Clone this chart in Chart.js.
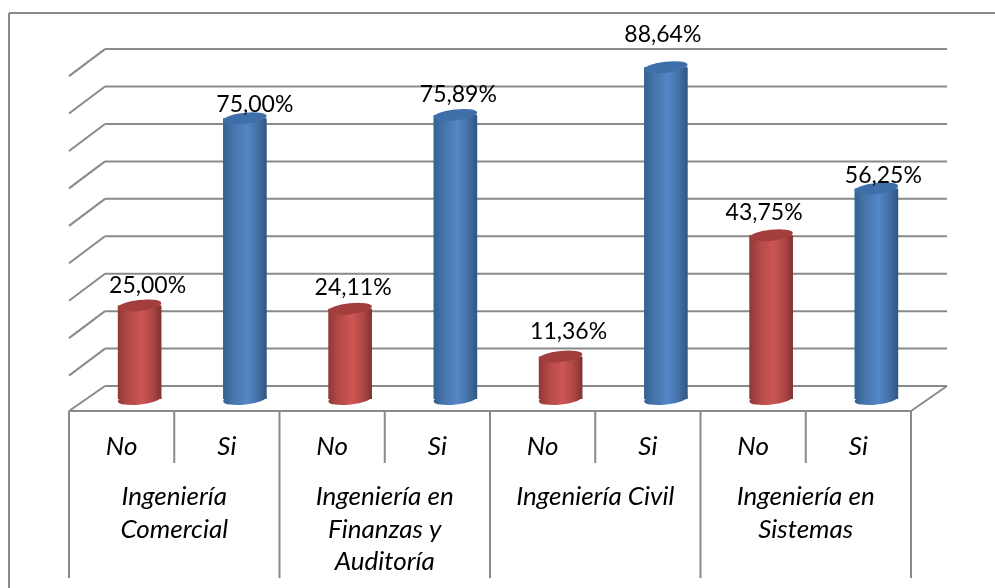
<!DOCTYPE html>
<html>
<head>
<meta charset="utf-8">
<title>Ingeniería</title>
<script src="https://cdn.jsdelivr.net/npm/chart.js@4"></script>
<style>
    html, body { margin: 0; padding: 0; background: #fff; }
    canvas { display: block; }
</style>
</head>
<body>
<canvas id="myBarChart" width="995" height="588"></canvas>
<script>
// Data
const careers = [
    ['Ingeniería', 'Comercial'],
    ['Ingeniería en', 'Finanzas y', 'Auditoría'],
    ['Ingeniería Civil'],
    ['Ingeniería en', 'Sistemas']
];
const answers = ['No', 'Si', 'No', 'Si', 'No', 'Si', 'No', 'Si'];
const noValues = [25.00, 24.11, 11.36, 43.75];
const siValues = [75.00, 75.89, 88.64, 56.25];
const wallTicks = [0, 10, 20, 30, 40, 50, 60, 70, 80, 90];

// Label nudges, the original has them hand placed
const labelShiftX = [8, 10, 3, 3, 8, -3, -7, 7];
const labelShiftY = [20, 14, 21, 20, 25, 33, 23, 13];

// 3D look
const depthX = 18;
const wallLift = 13;
const wallDepth = 36;
const lineColor = '#8a8a8a';
const textColor = '#000';

const values = [];
noValues.forEach(function(v, i) {
    values.push(v, siValues[i]);
});

function line(ctx, x1, y1, x2, y2) {
    ctx.beginPath();
    ctx.moveTo(x1, y1);
    ctx.lineTo(x2, y2);
    ctx.stroke();
}

function barGradient(context) {
    const chart = context.chart;
    const scale = chart.scales.x;
    if (!scale || context.dataIndex === undefined) {
        return '#4f81bd';
    }
    const center = scale.getPixelForTick(context.dataIndex);
    const half = 22;
    const g = chart.ctx.createLinearGradient(center - half, 0, center + half, 0);
    if (context.dataIndex % 2 === 0) {
        g.addColorStop(0, '#8e3836');
        g.addColorStop(0.25, '#b54a47');
        g.addColorStop(0.55, '#cd5654');
        g.addColorStop(0.8, '#ad4644');
        g.addColorStop(1, '#7f3230');
    } else {
        g.addColorStop(0, '#34608f');
        g.addColorStop(0.25, '#4775ad');
        g.addColorStop(0.55, '#5387c8');
        g.addColorStop(0.8, '#446fa4');
        g.addColorStop(1, '#2f5680');
    }
    return g;
}

// Walls, floor and the table under the axis
const framePlugin = {
    id: 'frame',
    beforeDatasetsDraw(chart) {
        const ctx = chart.ctx;
        const x = chart.scales.x;
        const y = chart.scales.y;
        const front = chart.chartArea.bottom;
        const step = x.width / answers.length;
        ctx.save();
        ctx.strokeStyle = lineColor;
        ctx.lineWidth = 2;

        // outer frame, only top and left are in the picture
        line(ctx, 9, 13, chart.width, 13);
        line(ctx, 9, 13, 9, chart.height);

        wallTicks.forEach(function(t) {
            const py = y.getPixelForValue(t) - wallLift;
            line(ctx, x.left + wallDepth, py, x.right + wallDepth, py);
            if (t > 0) {
                line(ctx, x.left, py + 27, x.left + wallDepth, py);
            }
        });

        // floor
        const floorBack = y.getPixelForValue(0) - wallLift;
        line(ctx, x.left, front, x.right, front);
        line(ctx, x.right, front, x.right + wallDepth, floorBack);
        line(ctx, x.left, front, x.left + wallDepth, floorBack);

        // table
        for (let i = 0; i <= answers.length; i++) {
            const px = x.left + i * step;
            line(ctx, px, front, px, i % 2 === 0 ? 578 : x.bottom);
        }
        ctx.restore();

        // bars sit half way into the floor
        ctx.save();
        ctx.translate(depthX, 0);
    },
    afterDatasetsDraw(chart) {
        const ctx = chart.ctx;
        const meta = chart.getDatasetMeta(0);
        const tilt = -0.11;
        meta.data.forEach(function(bar, i) {
            const w = bar.width / 2;
            // rounded foot
            ctx.fillStyle = bar.options.backgroundColor;
            ctx.beginPath();
            ctx.ellipse(bar.x, bar.base, w, 5.5, tilt, 0, Math.PI * 2);
            ctx.fill();
            // lid
            ctx.fillStyle = i % 2 === 0 ? '#a23f3d' : '#3f6fa8';
            ctx.beginPath();
            ctx.ellipse(bar.x, bar.y, w, 5.5, tilt, 0, Math.PI * 2);
            ctx.fill();
        });
        ctx.restore();

        // value labels
        ctx.save();
        ctx.fillStyle = textColor;
        ctx.font = '23px Lato';
        ctx.textAlign = 'center';
        ctx.textBaseline = 'middle';
        meta.data.forEach(function(bar, i) {
            const text = values[i].toFixed(2).replace('.', ',') + '%';
            ctx.fillText(text, bar.x + depthX + labelShiftX[i], bar.y - labelShiftY[i]);
        });
        ctx.restore();
    }
};

const ctxBar = document.getElementById('myBarChart').getContext('2d');
const myBarChart = new Chart(ctxBar, {
    type: 'bar',
    data: {
        labels: answers,
        datasets: [{
            data: values,
            backgroundColor: barGradient,
            borderWidth: 0,
            barPercentage: 0.415,
            categoryPercentage: 1,
            clip: false
        }]
    },
    options: {
        responsive: false,
        animation: false,
        layout: { padding: { left: 69, right: 84, top: 48, bottom: 0 } },
        plugins: {
            legend: { display: false },
            tooltip: { enabled: false }
        },
        scales: {
            y: {
                display: false,
                min: -3.2,
                max: 93.76
            },
            x: {
                weight: 0,
                grid: { display: false, drawTicks: false },
                border: { display: false },
                ticks: {
                    color: textColor,
                    font: { family: 'Lato', size: 26, style: 'italic' },
                    maxRotation: 0,
                    autoSkip: false,
                    padding: 20
                },
                afterFit(scale) { scale.height = 52; }
            },
            x2: {
                type: 'category',
                position: 'bottom',
                weight: 1,
                labels: careers,
                grid: { display: false, drawTicks: false },
                border: { display: false },
                ticks: {
                    color: textColor,
                    font: { family: 'Lato', size: 26, style: 'italic', lineHeight: 1.26 },
                    maxRotation: 0,
                    autoSkip: false,
                    padding: 17
                },
                afterFit(scale) { scale.height = 125; }
            }
        }
    },
    plugins: [framePlugin]
});
</script>
</body>
</html>
